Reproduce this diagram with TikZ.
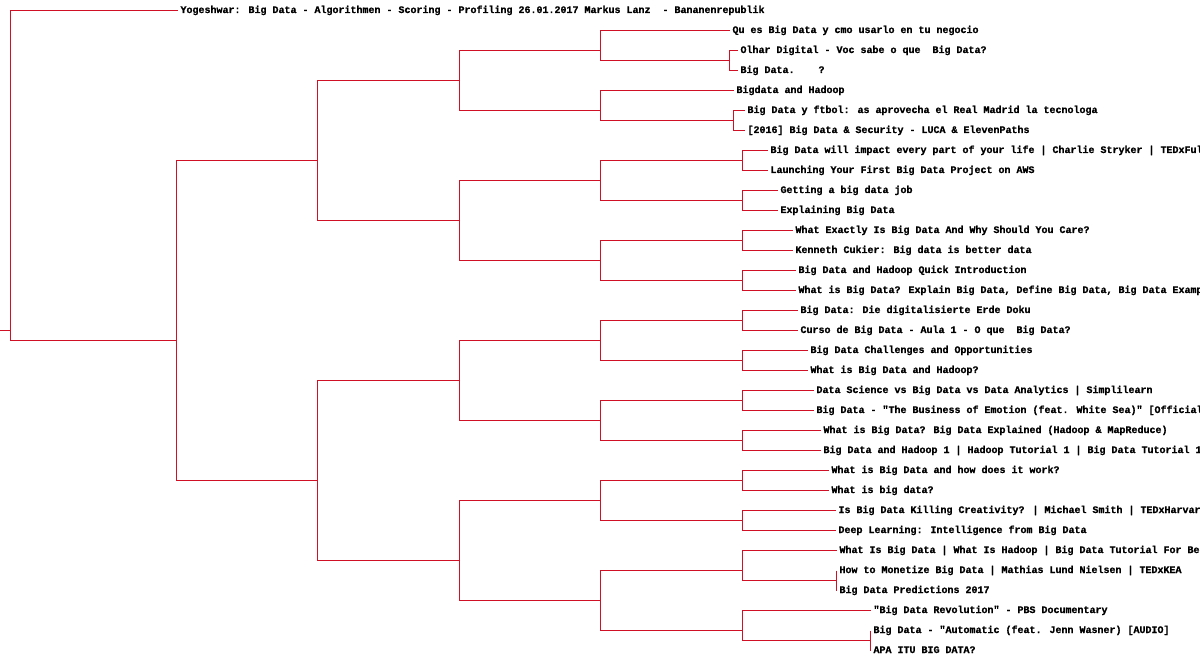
\documentclass[tikz,border=0pt]{standalone}
\usepackage{fontspec}
\newfontfamily\lmono[BoldFeatures={FakeBold=0.8}]{Liberation Mono}
\definecolor{dred}{RGB}{208,16,36}
\tikzset{
  conn/.style={draw=dred, line width=1pt},
  lbl/.style={anchor=west, inner xsep=3pt, inner ysep=0pt, outer sep=0pt,
    text height=7pt, text depth=2pt,
    font=\lmono\bfseries\fontsize{10}{12}\selectfont, text=black}
}
\begin{document}
\begin{tikzpicture}[x=1pt,y=-1pt]
\fill[white] (0,0) rectangle (1200,660);
\useasboundingbox (0,0) rectangle (1200,660);
\begin{scope}[shift={(0.5,0.5)}]
% leaves
\node[lbl] (t1) at (177,10) {Yogeshwar: Big Data - Algorithmen - Scoring - Profiling 26.01.2017 Markus Lanz~~- Bananenrepublik};
\node[lbl] (t2) at (729,30) {Qu es Big Data y cmo usarlo en tu negocio};
\node[lbl] (t3) at (737,50) {Olhar Digital - Voc sabe o que~~Big Data?};
\node[lbl] (t4) at (737,70) {Big Data.~~~~?};
\node[lbl] (t5) at (733,90) {Bigdata and Hadoop};
\node[lbl] (t6) at (744,110) {Big Data y ftbol: as aprovecha el Real Madrid la tecnologa};
\node[lbl] (t7) at (744,130) {[2016] Big Data \& Security - LUCA \& ElevenPaths};
\node[lbl] (t8) at (767,150) {Big Data will impact every part of your life | Charlie Stryker | TEDxFul};
\node[lbl] (t9) at (767,170) {Launching Your First Big Data Project on AWS};
\node[lbl] (t10) at (777,190) {Getting a big data job};
\node[lbl] (t11) at (777,210) {Explaining Big Data};
\node[lbl] (t12) at (792,230) {What Exactly Is Big Data And Why Should You Care?};
\node[lbl] (t13) at (792,250) {Kenneth Cukier: Big data is better data};
\node[lbl] (t14) at (795,270) {Big Data and Hadoop Quick Introduction};
\node[lbl] (t15) at (795,290) {What is Big Data? Explain Big Data, Define Big Data, Big Data Examp};
\node[lbl] (t16) at (797,310) {Big Data: Die digitalisierte Erde Doku};
\node[lbl] (t17) at (797,330) {Curso de Big Data - Aula 1 - O que~~Big Data?};
\node[lbl] (t18) at (807,350) {Big Data Challenges and Opportunities};
\node[lbl] (t19) at (807,370) {What is Big Data and Hadoop?};
\node[lbl] (t20) at (813,390) {Data Science vs Big Data vs Data Analytics | Simplilearn};
\node[lbl] (t21) at (813,410) {Big Data - "The Business of Emotion (feat. White Sea)" [Official};
\node[lbl] (t22) at (820,430) {What is Big Data? Big Data Explained (Hadoop \& MapReduce)};
\node[lbl] (t23) at (820,450) {Big Data and Hadoop 1 | Hadoop Tutorial 1 | Big Data Tutorial 1};
\node[lbl] (t24) at (828,470) {What is Big Data and how does it work?};
\node[lbl] (t25) at (828,490) {What is big data?};
\node[lbl] (t26) at (835,510) {Is Big Data Killing Creativity? | Michael Smith | TEDxHarvar};
\node[lbl] (t27) at (835,530) {Deep Learning: Intelligence from Big Data};
\node[lbl] (t28) at (836,550) {What Is Big Data | What Is Hadoop | Big Data Tutorial For Be};
\node[lbl] (t29) at (836,570) {How to Monetize Big Data | Mathias Lund Nielsen | TEDxKEA};
\node[lbl] (t30) at (836,590) {Big Data Predictions 2017};
\node[lbl] (t31) at (870,610) {"Big Data Revolution" - PBS Documentary};
\node[lbl] (t32) at (870,630) {Big Data - "Automatic (feat. Jenn Wasner) [AUDIO]};
\node[lbl] (t33) at (870,650) {APA ITU BIG DATA?};
% internal junctions
\coordinate (s0) at (-0.5,330);
\coordinate (R0) at (10,330);
\coordinate (A) at (176,340);
\coordinate (B) at (317,160);
\coordinate (C) at (317,480);
\coordinate (D) at (459,80);
\coordinate (E) at (459,220);
\coordinate (L) at (459,380);
\coordinate (M) at (459,560);
\coordinate (F) at (600,50);
\coordinate (G) at (600,110);
\coordinate (J) at (600,180);
\coordinate (K) at (600,260);
\coordinate (N) at (600,340);
\coordinate (O) at (600,420);
\coordinate (P) at (600,500);
\coordinate (Q) at (600,600);
\coordinate (H) at (729,60);
\coordinate (I) at (733,120);
\coordinate (J1) at (742,160);
\coordinate (J2) at (742,200);
\coordinate (K1) at (742,240);
\coordinate (K2) at (742,280);
\coordinate (N1) at (742,320);
\coordinate (N2) at (742,360);
\coordinate (O1) at (742,400);
\coordinate (O2) at (742,440);
\coordinate (P1) at (742,480);
\coordinate (P2) at (742,520);
\coordinate (Rr) at (742,570);
\coordinate (S) at (742,630);
\coordinate (T) at (836,580);
\coordinate (U) at (870,640);
% connectors
\draw[conn] (s0) -- (R0);
\draw[conn] (t1.west) -| (R0) |- (A);
\draw[conn] (B) -| (A) |- (C);
\draw[conn] (D) -| (B) |- (E);
\draw[conn] (L) -| (C) |- (M);
\draw[conn] (F) -| (D) |- (G);
\draw[conn] (J) -| (E) |- (K);
\draw[conn] (N) -| (L) |- (O);
\draw[conn] (P) -| (M) |- (Q);
\draw[conn] (t2.west) -| (F) |- (H);
\draw[conn] (t5.west) -| (G) |- (I);
\draw[conn] (t3.west) -| (H) |- (t4.west);
\draw[conn] (t6.west) -| (I) |- (t7.west);
\draw[conn] (J1) -| (J) |- (J2);
\draw[conn] (K1) -| (K) |- (K2);
\draw[conn] (N1) -| (N) |- (N2);
\draw[conn] (O1) -| (O) |- (O2);
\draw[conn] (P1) -| (P) |- (P2);
\draw[conn] (Rr) -| (Q) |- (S);
\draw[conn] (t8.west) -| (J1) |- (t9.west);
\draw[conn] (t10.west) -| (J2) |- (t11.west);
\draw[conn] (t12.west) -| (K1) |- (t13.west);
\draw[conn] (t14.west) -| (K2) |- (t15.west);
\draw[conn] (t16.west) -| (N1) |- (t17.west);
\draw[conn] (t18.west) -| (N2) |- (t19.west);
\draw[conn] (t20.west) -| (O1) |- (t21.west);
\draw[conn] (t22.west) -| (O2) |- (t23.west);
\draw[conn] (t24.west) -| (P1) |- (t25.west);
\draw[conn] (t26.west) -| (P2) |- (t27.west);
\draw[conn] (t28.west) -| (Rr) |- (T);
\draw[conn] (t29.west) -- (t30.west);
\draw[conn] (t31.west) -| (S) |- (U);
\draw[conn] (t32.west) -- (t33.west);
\end{scope}
\end{tikzpicture}
\end{document}
